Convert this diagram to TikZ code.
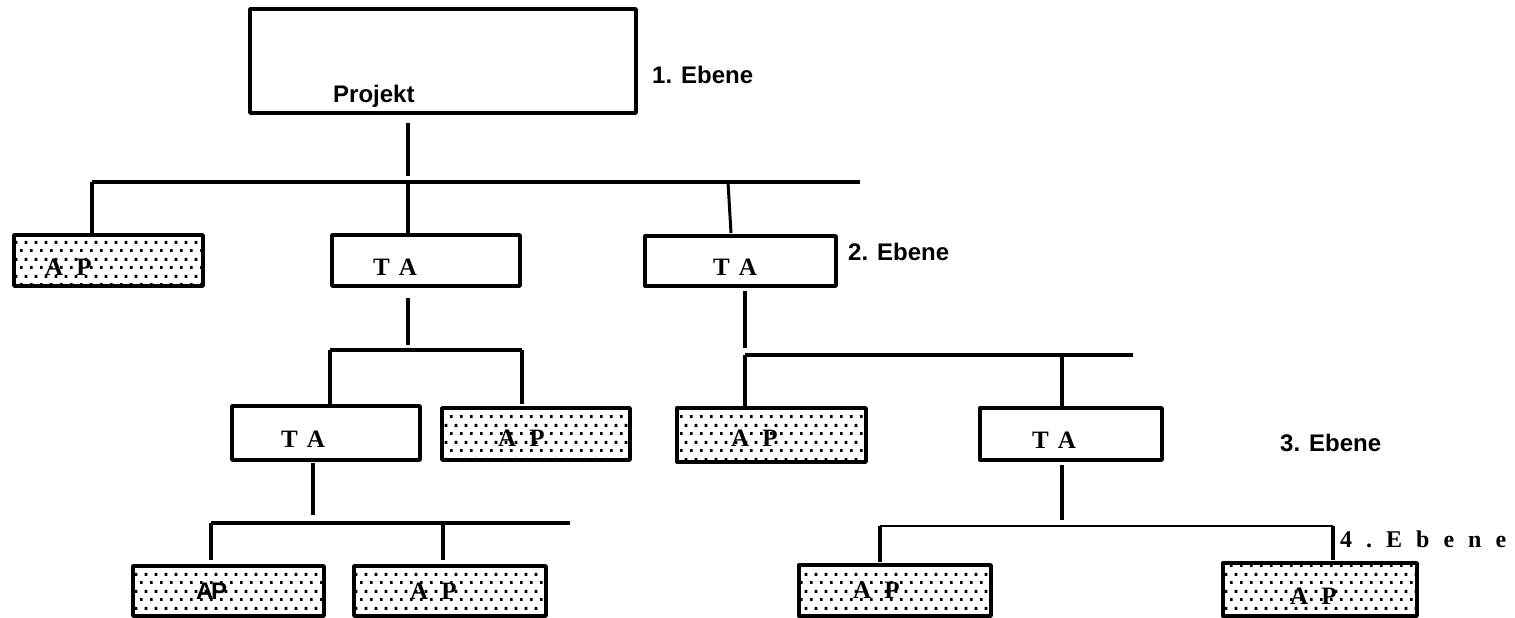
\documentclass[tikz,border=0pt]{standalone}
\usepackage{fontspec}
\setmainfont{Liberation Serif}
\setsansfont{Liberation Sans}
\usetikzlibrary{patterns}
\pgfdeclarepatternformonly{apdots}{\pgfqpoint{0pt}{0pt}}{\pgfqpoint{10pt}{16.6pt}}{\pgfqpoint{10pt}{16.6pt}}{%
  \pgfpathrectangle{\pgfqpoint{0pt}{0pt}}{\pgfqpoint{3pt}{3pt}}%
  \pgfpathrectangle{\pgfqpoint{5pt}{8.3pt}}{\pgfqpoint{3pt}{3pt}}%
  \pgfusepath{fill}}
\newcommand{\spacedlvl}{4\hspace{14pt}.\hspace{14pt}E\hspace{14pt}b\hspace{14pt}e\hspace{14pt}n\hspace{14pt}e}
\begin{document}
\begin{tikzpicture}[x=1pt,y=-1pt,
  box/.style={draw, line width=3.4pt, inner sep=0pt, line join=round},
  apbox/.style={box, pattern=apdots},
  conn/.style={line width=3.8pt},
  midconn/.style={line width=3pt},
  thinconn/.style={line width=2.6pt},
  lbl/.style={anchor=base west, inner sep=0pt},
  sanslbl/.style={lbl, font=\sffamily\bfseries\fontsize{24}{28}\selectfont},
  seriflbl/.style={lbl, font=\rmfamily\bfseries\fontsize{25}{29}\selectfont},
  lvllbl/.style={lbl, font=\rmfamily\bfseries\fontsize{24}{28}\selectfont}]
\useasboundingbox (0,0) rectangle (1515,618);

% boxes
\node[box, minimum width=386pt, minimum height=104pt] (proj) at (443,61) {};
\node[apbox, minimum width=189pt, minimum height=51pt] (ap1) at (108.5,260.5) {};
\node[box, minimum width=188pt, minimum height=51pt] (ta1) at (426,260.5) {};
\node[box, minimum width=191pt, minimum height=50pt] (ta2) at (740.5,261) {};
\node[box, minimum width=188pt, minimum height=54pt] (ta3) at (326,433) {};
\node[apbox, minimum width=188pt, minimum height=52pt] (ap3) at (536,434) {};
\node[apbox, minimum width=189pt, minimum height=54pt] (ap4) at (771.5,435) {};
\node[box, minimum width=182pt, minimum height=52pt] (ta4) at (1071,434) {};
\node[apbox, minimum width=191pt, minimum height=50pt] (ap5) at (228.5,591) {};
\node[apbox, minimum width=192pt, minimum height=50pt] (ap6) at (450,591) {};
\node[apbox, minimum width=192pt, minimum height=51pt] (ap7) at (895,590.5) {};
\node[apbox, minimum width=194pt, minimum height=53pt] (ap8) at (1320,589.5) {};

% texts
\node[sanslbl] (tproj) at (333,102) {Projekt};
\node[sanslbl] (l1) at (652,83) {1. Ebene};
\node[sanslbl] (l2) at (848,260) {2. Ebene};
\node[sanslbl] (l3) at (1280,451) {3. Ebene};
\node[lvllbl] (l4) at (1340,547) {\spacedlvl};
\node[seriflbl] (tta1) at (373,275) {T\hspace{9pt}A};
\node[seriflbl] (tta2) at (713,275) {T\hspace{9pt}A};
\node[seriflbl] (tta3) at (281,447) {T\hspace{9pt}A};
\node[seriflbl] (tta4) at (1032,448) {T\hspace{9pt}A};
\node[seriflbl] (tap1) at (45,275) {A\hspace{13pt}P};
\node[seriflbl] (tap3) at (498,446) {A\hspace{13pt}P};
\node[seriflbl] (tap4) at (731,446) {A\hspace{13pt}P};
\node[sanslbl] (tap5) at (196,599) {A\kern-2.5pt P};
\node[seriflbl] (tap6) at (410,599) {A\hspace{13pt}P};
\node[seriflbl] (tap7) at (853,598) {A\hspace{13pt}P};
\node[seriflbl] (tap8) at (1290,604) {A\hspace{13pt}P};

% level 1 -> 2
\coordinate (s1a) at (408,123);
\coordinate (s1b) at (408,176);
\coordinate (b1l) at (92,182);
\coordinate (b1r) at (860,182);
\coordinate (b1m) at (408,182);
\coordinate (b1t) at (728,182);
\coordinate (b1u) at (731,233);
\draw[conn] (s1a) -- (s1b);
\draw[conn] (b1l) -- (b1r);
\draw[conn] (b1l) -- (b1l |- ap1.north);
\draw[conn] (b1m) -- (b1m |- ta1.north);
\draw[midconn] (b1t) -- (b1u);

% TA1 -> level 3 left
\coordinate (s2a) at (408,298);
\coordinate (s2b) at (408,345);
\coordinate (b2l) at (330,350);
\coordinate (b2r) at (522,350);
\draw[conn] (s2a) -- (s2b);
\draw[conn] (b2l) -- (b2r);
\draw[conn] (b2l) -- (330,404);
\draw[conn] (b2r) -- (522,404);

% TA2 -> level 3 right
\coordinate (s3a) at (745,291);
\coordinate (s3b) at (745,348);
\coordinate (b3l) at (745,355);
\coordinate (b3r) at (1133,355);
\coordinate (b3m) at (1062,355);
\draw[conn] (s3a) -- (s3b);
\draw[conn] (b3l) -- (b3r);
\draw[conn] (b3l) -- (745,406);
\draw[conn] (b3m) -- (1062,406);

% TA3 -> level 4 left
\coordinate (s4a) at (313,463);
\coordinate (s4b) at (313,515);
\coordinate (b4l) at (211,523);
\coordinate (b4r) at (570,523);
\coordinate (b4m) at (443,523);
\draw[conn] (s4a) -- (s4b);
\draw[conn] (b4l) -- (b4r);
\draw[conn] (b4l) -- (211,560);
\draw[conn] (b4m) -- (443,560);

% TA4 -> level 4 right
\coordinate (s5a) at (1062,465);
\coordinate (s5b) at (1062,520);
\coordinate (b5l) at (880,526);
\coordinate (b5r) at (1333,526);
\draw[conn] (s5a) -- (s5b);
\draw[thinconn] (b5l) -- (b5r);
\draw[conn] (b5l) -- (880,562);
\draw[conn] (b5r) -- (1333,560);
\end{tikzpicture}
\end{document}
